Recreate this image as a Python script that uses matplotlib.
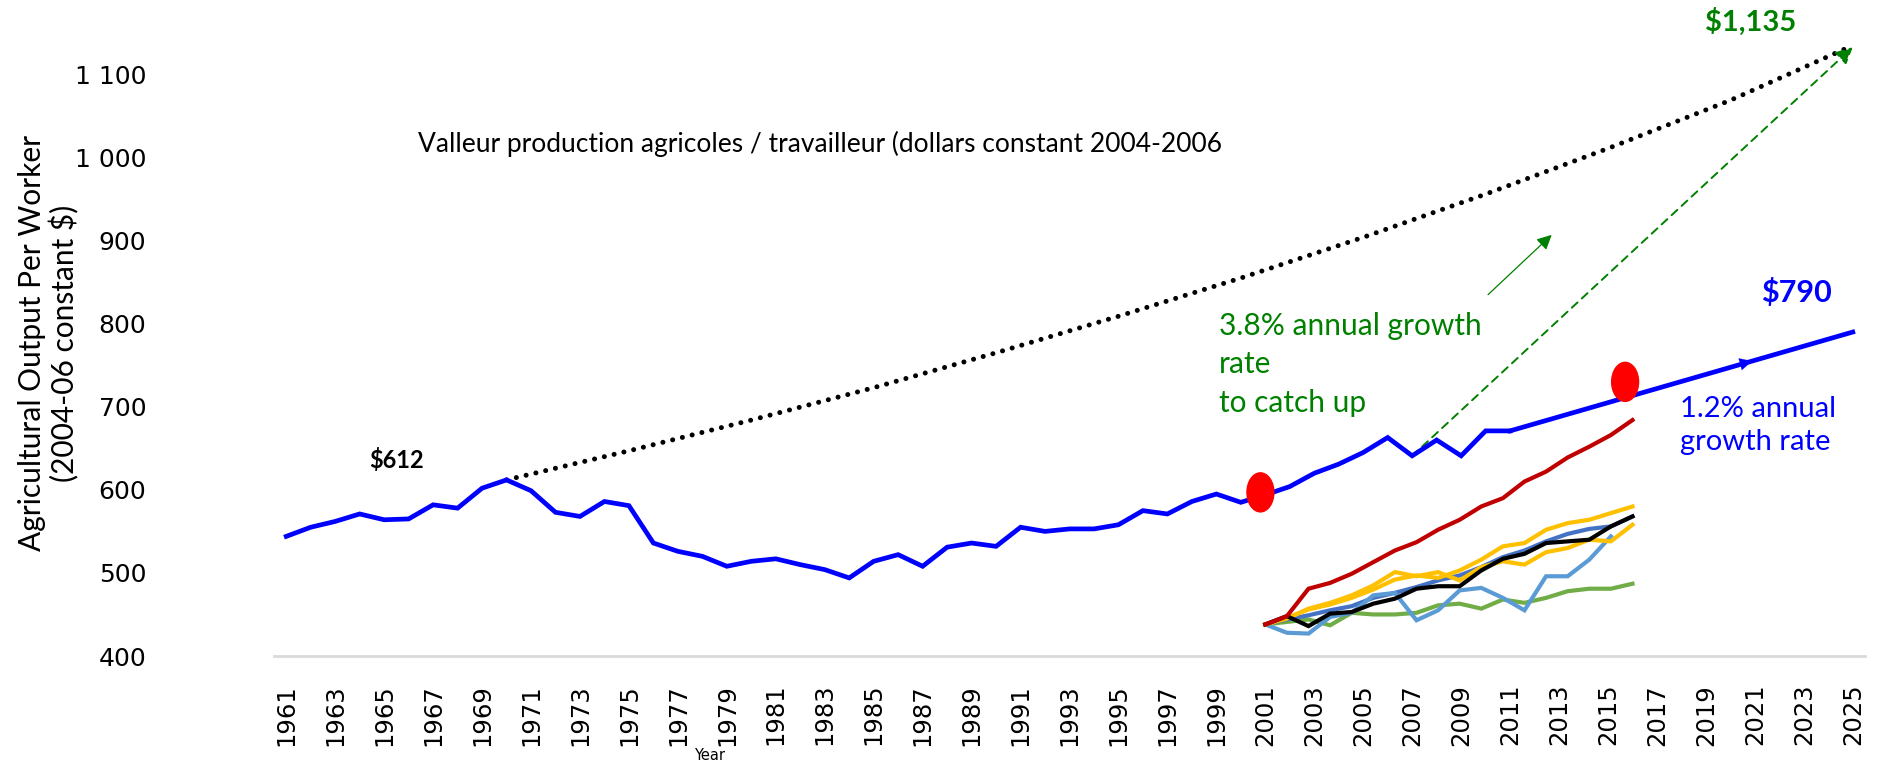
import numpy as np
import matplotlib
matplotlib.use("Agg")
import matplotlib.pyplot as plt
from matplotlib.patches import Ellipse

# main series: agricultural output per worker, 1961-2011
years = list(range(1961, 2012))
output = [544, 555, 562, 571, 564, 565, 582, 578, 602, 612,
          599, 573, 568, 586, 581, 536, 526, 520, 508, 514,
          517, 510, 504, 494, 514, 522, 508, 531, 536, 532,
          555, 550, 553, 553, 558, 575, 571, 586, 595, 585,
          594, 604, 620, 631, 645, 663, 641, 660, 641, 671,
          671]

# 1.2% trend projection
proj_years = [2011, 2025]
proj_values = [671, 790]
proj_arrow_years = [2020, 2021]
proj_arrow_values = [748, 756]

# catch-up path (dotted), read every 5 years
catch_years = [1970, 1975, 1980, 1985, 1990, 1995, 2000, 2005, 2010, 2015, 2020, 2025]
catch_values = [612, 647, 684, 723, 765, 809, 855, 904, 956, 1011, 1069, 1135]

# 3.8% catch-up arrow
green_years = [2007, 2025]
green_values = [641, 1133]
thin_years = [2010.1, 2012.7]
thin_values = [835, 907]

# red markers
dot_years = [2000.8, 2015.7]
dot_values = [597, 730]

# country series (18 points drawn between 2001 and 2016)
sub_index = list(range(18))
red = [438, 448, 481, 488, 499, 513, 527, 537, 552, 564, 580, 590, 610, 622, 639, 652, 666, 684]
yellow_a = [438, 446, 456, 462, 470, 480, 492, 497, 494, 503, 516, 532, 536, 552, 560, 564, 572, 580]
yellow_b = [438, 445, 457, 464, 473, 485, 501, 496, 501, 491, 507, 514, 510, 525, 530, 540, 538, 558]
mid_blue = [438, 444, 449, 455, 460, 470, 476, 483, 491, 497, 507, 519, 527, 538, 547, 553, 556, 568]
light_blue = [438, 428, 427, 447, 452, 473, 476, 443, 455, 479, 482, 470, 455, 496, 496, 516, 544, np.nan]
green = [438, 441, 444, 437, 452, 450, 450, 452, 461, 463, 457, 468, 464, 470, 478, 481, 481, 487]
black = [438, 448, 436, 451, 453, 463, 469, 481, 484, 484, 503, 517, 523, 536, 538, 540, 556, 568]

yticks = [400, 500, 600, 700, 800, 900, 1000, 1100]
ytick_labels = ["400", "500", "600", "700", "800", "900", "1 000", "1 100"]
xtick_years = list(range(1961, 2026, 2))

W, H = 1887, 763
fig = plt.figure(figsize=(W / 100, H / 100), dpi=100)
ax = fig.add_axes([274 / W, 1 - 656 / H, (1865 - 274) / W, (656 - 33) / H])

txt_font = "Lato"

ax.plot(catch_years, catch_values, color="black", lw=3.6, linestyle=(0, (0.01, 2.0)),
        dash_capstyle="round", clip_on=False, zorder=3)
ax.plot(years, output, color="#0000FF", lw=3.4, zorder=5, solid_joinstyle="miter")
ax.plot(proj_years, proj_values, color="#0000FF", lw=3.4, zorder=5)
ax.annotate("", xy=(proj_arrow_years[1], proj_arrow_values[1]),
            xytext=(proj_arrow_years[0], proj_arrow_values[0]),
            arrowprops=dict(arrowstyle="-|>", color="#0000FF", lw=0.1, mutation_scale=22), zorder=6)

ax.annotate("", xy=(green_years[1], green_values[1]), xytext=(green_years[0], green_values[0]),
            arrowprops=dict(arrowstyle="-|>", color="#008000", lw=1.4, linestyle=(0, (4, 3)),
                            mutation_scale=25, shrinkA=0, shrinkB=0),
            annotation_clip=False, zorder=4)
ax.annotate("", xy=(thin_years[1], thin_values[1]), xytext=(thin_years[0], thin_values[0]),
            arrowprops=dict(arrowstyle="-|>", color="#008000", lw=0.9,
                            mutation_scale=22, shrinkA=0, shrinkB=0), zorder=4)

for yr, v in zip(dot_years, dot_values):
    ax.add_patch(Ellipse((yr, v), width=1.1, height=47, color="#FF0000", zorder=7))

ax.set_xlim(1960.5, 2025.5)
ax.set_ylim(400, 1150)
ax.set_yticks(yticks)
ax.set_yticklabels(ytick_labels, fontsize=18, fontfamily="DejaVu Sans")
ax.set_xticks(xtick_years)
ax.set_xticklabels([str(y) for y in xtick_years], rotation=90, fontsize=17.5,
                   fontfamily="DejaVu Sans")
ax.tick_params(axis="y", length=0, pad=92)
ax.tick_params(axis="x", length=0, pad=20)
for side in ["top", "right", "left"]:
    ax.spines[side].set_visible(False)
ax.spines["bottom"].set_color("#D9D9D9")
ax.spines["bottom"].set_linewidth(2)

# secondary axis for the 18-point country series
ax2 = ax.twiny()
ax2.set_xlim((1960.5 - 2001) * 17 / 15, (2025.5 - 2001) * 17 / 15)
ax2.set_ylim(400, 1150)
ax2.axis("off")
for vals, col in [(green, "#70AD47"), (mid_blue, "#4472C4"), (light_blue, "#5B9BD5"),
                  (yellow_a, "#FFC000"), (yellow_b, "#FFC000"), (black, "#000000"),
                  (red, "#C00000")]:
    ax2.plot(sub_index, vals, color=col, lw=3.0, solid_joinstyle="miter")


def ftext(x, y, s, **kw):
    fig.text(x / W, 1 - y / H, s, **kw)


ftext(418, 144, "Valleur production agricoles / travailleur (dollars constant 2004-2006",
      fontsize=19, fontfamily=txt_font, va="center", ha="left")
ftext(1219, 312, "3.8% annual growth\nrate\nto catch up", fontsize=21.5, fontfamily=txt_font,
      color="#008000", va="top", ha="left", linespacing=1.45)
ftext(1680, 396, "1.2% annual\ngrowth rate", fontsize=21, fontfamily=txt_font,
      color="#0000FF", va="top", ha="left", linespacing=1.35)
ftext(397, 460, "$612", fontsize=17, fontfamily=txt_font, fontweight="bold", ha="center", va="center")
ftext(1751, 22, "$1,135", fontsize=21, fontfamily=txt_font, fontweight="bold", color="#008000",
      ha="center", va="center")
ftext(1796, 292, "$790", fontsize=22, fontfamily=txt_font, fontweight="bold", color="#0000FF",
      ha="center", va="center")
ftext(710, 755, "Year", fontsize=10.5, fontfamily="DejaVu Sans", ha="center", va="center")
ftext(49, 343, "Agricultural Output Per Worker\n(2004-06 constant $)", fontsize=21.5,
      fontfamily=txt_font, rotation=90, ha="center", va="center", linespacing=1.15)

fig.savefig("out.png", dpi=100)
